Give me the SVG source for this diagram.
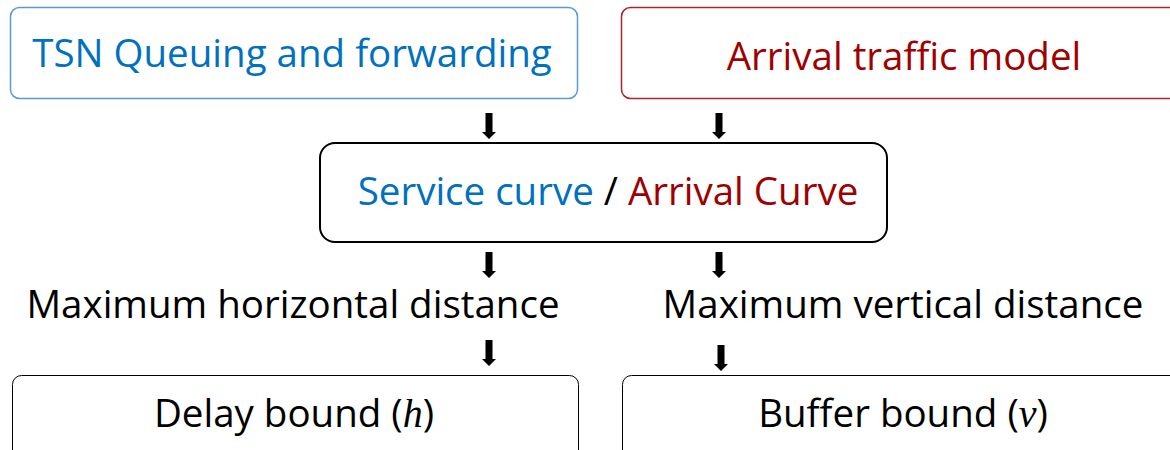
<svg xmlns="http://www.w3.org/2000/svg" width="1170" height="450" viewBox="0 0 1170 450">
  <style>
    text { font-family: "Open Sans", "Noto Sans", "Liberation Sans", sans-serif; font-size: 38.5px; }
    .blue { fill: #0070c0; }
    .red { fill: #a00000; }
    .ink { fill: #000000; }
    .math { font-family: "Liberation Serif", serif; font-style: italic; font-size: 40px; }
    .box { fill: #ffffff; }
  </style>
  <defs>
    <!-- block arrow pointing down, origin at top of shaft -->
    <path id="blockArrow" d="M-3.5,0 H3.5 V19 H7 L0,26 L-7,19 H-3.5 Z" fill="#000000"/>
  </defs>

  <g id="node-tsn">
    <rect class="box" x="10.5" y="7.5" width="567" height="91" rx="9" stroke="#5b9bd5" stroke-width="1.5"/>
    <text class="blue" x="292" y="67" text-anchor="middle">TSN Queuing and forwarding</text>
  </g>

  <g id="node-arrival-model">
    <rect class="box" x="621.5" y="7.5" width="560" height="91" rx="9" stroke="#b22222" stroke-width="1.5"/>
    <text class="red" x="904" y="70" text-anchor="middle">Arrival traffic model</text>
  </g>

  <g id="node-curves">
    <rect class="box" x="320" y="143" width="567" height="99" rx="15" stroke="#000000" stroke-width="2"/>
    <text x="608" y="205" text-anchor="middle"><tspan class="blue">Service curve</tspan><tspan class="ink"> / </tspan><tspan class="red">Arrival Curve</tspan></text>
  </g>

  <g id="node-horizontal">
    <text class="ink" x="293" y="318" text-anchor="middle">Maximum horizontal distance</text>
  </g>

  <g id="node-vertical">
    <text class="ink" x="903" y="318" text-anchor="middle">Maximum vertical distance</text>
  </g>

  <g id="node-delay">
    <rect class="box" x="12.5" y="375.5" width="566" height="90" rx="9" stroke="#000000" stroke-width="1"/>
    <text class="ink" x="294" y="427" text-anchor="middle">Delay bound (<tspan class="math">h</tspan>)</text>
  </g>

  <g id="node-buffer">
    <rect class="box" x="622.5" y="375.5" width="560" height="90" rx="9" stroke="#000000" stroke-width="1"/>
    <text class="ink" x="903" y="427" text-anchor="middle">Buffer bound (<tspan class="math">v</tspan>)</text>
  </g>

  <g id="connectors">
    <use href="#blockArrow" x="489" y="113"/>
    <use href="#blockArrow" x="719" y="113"/>
    <use href="#blockArrow" x="489" y="252"/>
    <use href="#blockArrow" x="719" y="252"/>
    <use href="#blockArrow" x="489" y="340"/>
    <use href="#blockArrow" x="721" y="345"/>
  </g>
</svg>
